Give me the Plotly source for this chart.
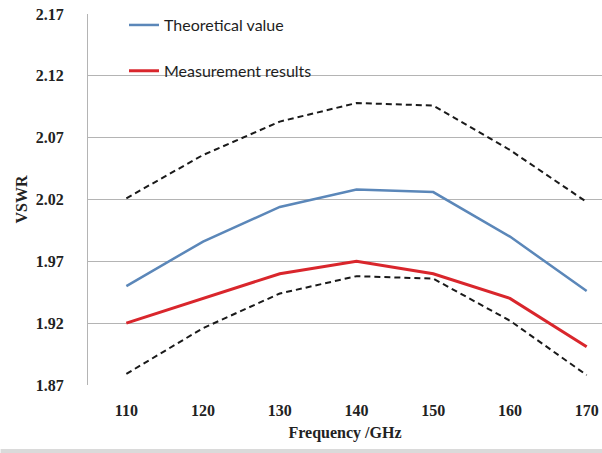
import plotly.graph_objects as go

freq = [110, 120, 130, 140, 150, 160, 170]
theoretical = [1.950, 1.986, 2.014, 2.028, 2.026, 1.990, 1.946]
measured = [1.920, 1.940, 1.960, 1.970, 1.960, 1.940, 1.901]
upper_bound = [2.021, 2.056, 2.083, 2.098, 2.096, 2.060, 2.018]
lower_bound = [1.879, 1.916, 1.944, 1.958, 1.956, 1.922, 1.878]
y_ticks = [1.87, 1.92, 1.97, 2.02, 2.07, 2.12, 2.17]

W, H = 602, 453
L, R, T, B = 87.5, 0, 14, 68

serif = "Liberation Serif"
fig = go.Figure()
fig.add_trace(go.Scatter(x=freq, y=upper_bound, mode="lines", showlegend=False,
                         line=dict(color="#1a1a1a", width=2, dash="6px,4px")))
fig.add_trace(go.Scatter(x=freq, y=lower_bound, mode="lines", showlegend=False,
                         line=dict(color="#1a1a1a", width=2, dash="6px,4px")))
fig.add_trace(go.Scatter(x=freq, y=theoretical, mode="lines", name="Theoretical value",
                         legendgroup="a", line=dict(color="#5b87b9", width=2.5)))
fig.add_trace(go.Scatter(x=freq, y=measured, mode="lines", name="Measurement results",
                         legendgroup="b", line=dict(color="#d9262c", width=3)))

fig.update_layout(
    width=W, height=H,
    margin=dict(l=L, r=R, t=T, b=B, pad=0),
    paper_bgcolor="white", plot_bgcolor="white",
    font=dict(family=serif, size=16, color="#222222", weight="bold"),
    legend=dict(x=0.07, y=1.016, xanchor="left", yanchor="top",
                bgcolor="rgba(0,0,0,0)", tracegroupgap=22,
                font=dict(family="Lato", size=16, color="#1e1e1e", weight="normal")),
    xaxis=dict(range=[105, 172], tickvals=freq, ticktext=[str(f) for f in freq],
               showgrid=False, zeroline=False, showline=False, ticks="",
               ticklabelstandoff=14,
               tickfont=dict(family=serif, size=16, weight="bold"),
               title=dict(text="Frequency /GHz", standoff=8,
                          font=dict(family=serif, size=16, weight="bold"))),
    yaxis=dict(range=[1.87, 2.17], tickvals=y_ticks, ticktext=[f"{v:.2f}" for v in y_ticks],
               showgrid=True, gridcolor="#b4b4b4", gridwidth=1, zeroline=False,
               showline=True, linecolor="#b4b4b4", linewidth=1, ticks="",
               ticklabelstandoff=20,
               tickfont=dict(family=serif, size=16, weight="bold"),
               title=dict(text="VSWR", standoff=4,
                          font=dict(family=serif, size=16, weight="bold"))),
)
fig.add_shape(type="rect", xref="paper", yref="paper", x0=-L / (W - L - R), x1=1,
              y0=-(B) / (H - T - B), y1=-(B - 4) / (H - T - B),
              fillcolor="#dadada", line=dict(width=0), layer="below")

fig.write_html("out.html")
